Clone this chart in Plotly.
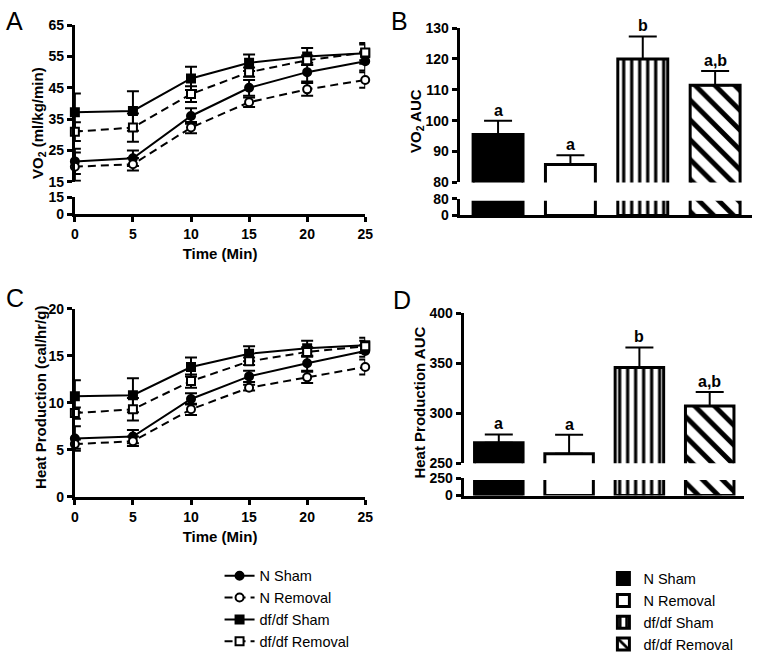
import plotly.graph_objects as go

W, H = 762, 661
FONT = "Liberation Sans, Arial, sans-serif"

# ---- données ----
minutes = [0, 5, 10, 15, 20, 25]
groupes = ["N Sham", "N Removal", "df/df Sham", "df/df Removal"]

vo2_n_sham = [21.5, 22.5, 36, 45, 50, 53.5]
vo2_n_sham_err = [4, 2.5, 2.5, 2.5, 3, 3]
vo2_n_removal = [19.8, 20.6, 32.3, 40.4, 44.5, 47.5]
vo2_n_removal_err = [4.5, 2, 1.8, 1.5, 2, 2.5]
vo2_df_sham = [37.2, 37.6, 48, 53, 55, 56]
vo2_df_sham_err = [6, 6.3, 3.7, 2.6, 2.7, 3.3]
vo2_df_removal = [31, 32.3, 43, 50, 53.8, 56.3]
vo2_df_removal_err = [3, 4.5, 2.5, 1.5, 1.5, 2.5]

heat_n_sham = [6.2, 6.4, 10.4, 12.8, 14.2, 15.5]
heat_n_sham_err = [1.3, 0.7, 0.6, 0.6, 0.8, 0.6]
heat_n_removal = [5.6, 5.9, 9.3, 11.6, 12.7, 13.8]
heat_n_removal_err = [0.5, 0.5, 0.6, 0.3, 0.6, 0.8]
heat_df_sham = [10.7, 10.8, 13.8, 15.2, 15.8, 16.1]
heat_df_sham_err = [1.7, 1.8, 1.0, 0.8, 0.8, 0.8]
heat_df_removal = [8.9, 9.3, 12.3, 14.4, 15.4, 16.0]
heat_df_removal_err = [0.6, 1.2, 0.7, 0.4, 0.5, 0.6]

vo2_auc = [95.5, 85.8, 120, 111.5]
vo2_auc_err = [4.5, 3.0, 7.3, 4.6]
heat_auc = [270.5, 259.7, 346, 307.3]
heat_auc_err = [8.5, 19, 20, 14]
lettres = ["a", "a", "b", "a,b"]


def dx(a, b):
    return [a / W, b / W]


def dy(top, bottom):
    return [1 - bottom / H, 1 - top / H]


fig = go.Figure()

# styles des courbes : (nom, symbole, remplissage, tirets)
styles_lignes = [
    ("N Sham", "circle", "black", "solid"),
    ("N Removal", "circle", "white", "8px,5px"),
    ("df/df Sham", "square", "black", "solid"),
    ("df/df Removal", "square", "white", "8px,5px"),
]
vo2_series = [(vo2_n_sham, vo2_n_sham_err), (vo2_n_removal, vo2_n_removal_err),
              (vo2_df_sham, vo2_df_sham_err), (vo2_df_removal, vo2_df_removal_err)]
heat_series = [(heat_n_sham, heat_n_sham_err), (heat_n_removal, heat_n_removal_err),
               (heat_df_sham, heat_df_sham_err), (heat_df_removal, heat_df_removal_err)]

for (nom, sym, fill, dash), (y, e) in zip(styles_lignes, vo2_series):
    fig.add_trace(go.Scatter(
        x=minutes, y=y, mode="lines+markers", name=nom, xaxis="x", yaxis="y",
        line=dict(color="black", width=2, dash=dash),
        marker=dict(symbol=sym, size=8, color=fill, line=dict(color="black", width=2)),
        error_y=dict(type="data", array=e, color="black", thickness=2, width=6),
        cliponaxis=False, legend="legend", showlegend=True))

for (nom, sym, fill, dash), (y, e) in zip(styles_lignes, heat_series):
    fig.add_trace(go.Scatter(
        x=minutes, y=y, mode="lines+markers", name=nom, xaxis="x5", yaxis="y5",
        line=dict(color="black", width=2, dash=dash),
        marker=dict(symbol=sym, size=8, color=fill, line=dict(color="black", width=2)),
        error_y=dict(type="data", array=e, color="black", thickness=2, width=6),
        cliponaxis=False, showlegend=False))

# sous-graphe bas de A (vide)
fig.add_trace(go.Scatter(x=[], y=[], xaxis="x2", yaxis="y2", showlegend=False))

# barres
couleurs = ["black", "white", "white", "white"]
motifs = [dict(shape=""), dict(shape=""),
          dict(shape="|", fgcolor="black", bgcolor="white", fgopacity=1, size=8, solidity=0.4),
          dict(shape="\\", fgcolor="black", bgcolor="white", fgopacity=1, size=14, solidity=0.35)]


def add_bars(vals, errs, xa, ya, legend=False, with_err=True):
    for i in range(4):
        fig.add_trace(go.Bar(
            x=[i], y=[vals[i]], name=groupes[i], xaxis=xa, yaxis=ya, width=0.69,
            marker=dict(color=couleurs[i], line=dict(color="black", width=3),
                        pattern=motifs[i]),
            error_y=dict(type="data", symmetric=False, array=[errs[i]], arrayminus=[0],
                         color="black", thickness=2, width=14, visible=with_err),
            legend="legend2", showlegend=legend))


add_bars(vo2_auc, vo2_auc_err, "x3", "y3", legend=True)
add_bars(vo2_auc, vo2_auc_err, "x4", "y4", with_err=False)
add_bars(heat_auc, heat_auc_err, "x6", "y6")
add_bars(heat_auc, heat_auc_err, "x7", "y7", with_err=False)

tickfont = dict(family=FONT, size=14, color="black", weight="bold")
axe = dict(showline=True, linecolor="black", linewidth=3, ticks="outside",
           tickwidth=3, ticklen=5, tickcolor="black", showgrid=False, zeroline=False,
           tickfont=tickfont, fixedrange=True)
cache = dict(visible=False, showgrid=False, zeroline=False, fixedrange=True)
titre_x = dict(text="Time (Min)", font=dict(family=FONT, size=15, weight="bold"), standoff=8)

fig.update_layout(
    width=W, height=H, margin=dict(l=0, r=0, t=0, b=0),
    paper_bgcolor="white", plot_bgcolor="rgba(0,0,0,0)", barmode="overlay",
    font=dict(family=FONT, color="black"),
    # A
    xaxis=dict(cache, domain=dx(72, 367), range=[0, 25], anchor="y"),
    yaxis=dict(axe, domain=dy(18, 182), range=[15, 65], tickvals=[15, 25, 35, 45, 55, 65],
               anchor="x"),
    xaxis2=dict(axe, domain=dx(72, 367), range=[0, 25], tickvals=minutes, anchor="y2",
                title=titre_x),
    yaxis2=dict(axe, domain=dy(198, 216), range=[0, 15], tickvals=[0, 15], anchor="x2"),
    # B
    xaxis3=dict(cache, domain=dx(463, 760), range=[-0.53, 3.51], anchor="y3"),
    yaxis3=dict(axe, domain=dy(21, 182.7), range=[80, 130],
                tickvals=[80, 90, 100, 110, 120, 130], anchor="x3"),
    xaxis4=dict(axe, domain=dx(463, 760), range=[-0.53, 3.51], anchor="y4",
                ticks="", showticklabels=False),
    yaxis4=dict(axe, domain=dy(200, 217.3), range=[0, 80], tickvals=[0, 80], anchor="x4"),
    # C
    xaxis5=dict(axe, domain=dx(72, 367), range=[0, 25], tickvals=minutes, anchor="y5",
                title=titre_x),
    yaxis5=dict(axe, domain=dy(315, 512), range=[0, 20], tickvals=[0, 5, 10, 15, 20],
                anchor="x5"),
    # D
    xaxis6=dict(cache, domain=dx(467, 752), range=[-0.5, 3.49], anchor="y6"),
    yaxis6=dict(axe, domain=dy(320, 477), range=[250, 400],
                tickvals=[250, 300, 350, 400], anchor="x6"),
    xaxis7=dict(axe, domain=dx(467, 752), range=[-0.5, 3.49], anchor="y7",
                ticks="", showticklabels=False),
    yaxis7=dict(axe, domain=dy(492.7, 510.7), range=[0, 250], tickvals=[0, 250],
                anchor="x7"),
    legend=dict(x=219 / W, y=1 - 578 / H, xanchor="left", yanchor="top",
                font=dict(family=FONT, size=14.5, color="black"),
                bgcolor="rgba(0,0,0,0)", tracegroupgap=0, itemclick=False),
    legend2=dict(x=609 / W, y=1 - 581 / H, xanchor="left", yanchor="top",
                 font=dict(family=FONT, size=14.5, color="black"),
                 bgcolor="rgba(0,0,0,0)", tracegroupgap=0, itemclick=False),
)

# masque blanc : coupe du haut des barres dans les segments bas (axe interrompu)
for x0, x1, y0, y1 in [(465.5, 762, 199.5, 201.8), (469.5, 762, 492.2, 494.5)]:
    fig.add_shape(type="rect", xref="paper", yref="paper", x0=x0 / W, x1=x1 / W,
                  y0=1 - y1 / H, y1=1 - y0 / H, fillcolor="white", line_width=0,
                  layer="above")

# titres des axes y et lettres des panneaux
titre = dict(family=FONT, size=15, color="black", weight="bold")
for txt, x, y in [("VO<sub>2</sub> (ml/kg/min)", 35, 120), ("VO<sub>2</sub> AUC", 419, 118),
                  ("Heat Production (cal/hr/g)", 37, 408), ("Heat Production AUC", 422, 413)]:
    fig.add_annotation(text=txt, x=x / W, y=1 - y / H, xref="paper", yref="paper",
                       textangle=-90, showarrow=False, font=titre,
                       xanchor="center", yanchor="middle")

for txt, x, y in [("A", 11, 14), ("B", 402, 14), ("C", 11, 304), ("D", 404, 306)]:
    fig.add_annotation(text=txt, x=x / W, y=1 - y / H, xref="paper", yref="paper",
                       showarrow=False, font=dict(family=FONT, size=25, color="black"),
                       xanchor="center", yanchor="middle")

# lettres de significativité
for i, l in enumerate(lettres):
    fig.add_annotation(text=l, x=i, y=vo2_auc[i] + vo2_auc_err[i], xref="x3", yref="y3",
                       showarrow=False, yanchor="bottom", yshift=0,
                       font=dict(family=FONT, size=16, color="black", weight="bold"))
    fig.add_annotation(text=l, x=i, y=heat_auc[i] + heat_auc_err[i], xref="x6", yref="y6",
                       showarrow=False, yanchor="bottom", yshift=0,
                       font=dict(family=FONT, size=16, color="black", weight="bold"))

fig.write_html("out.html", config={"displayModeBar": False},
               post_script="document.body.style.margin='0';")
